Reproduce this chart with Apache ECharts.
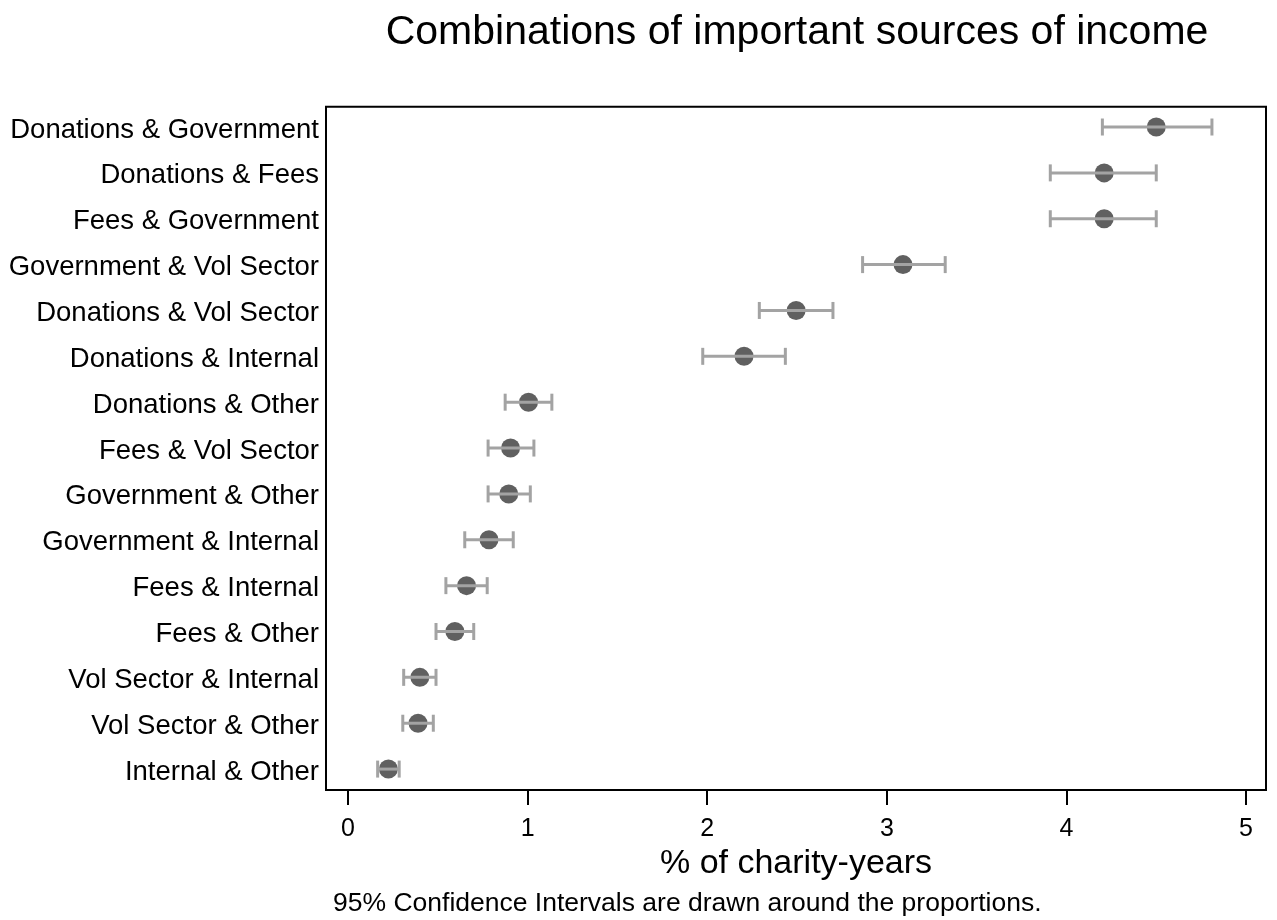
<!DOCTYPE html>
<html>
<head>
<meta charset="utf-8">
<title>Combinations of important sources of income</title>
<script src="https://cdn.jsdelivr.net/npm/echarts@6/dist/echarts.min.js"></script>
<style>
  html, body { margin: 0; padding: 0; background: #ffffff; }
  #chart { width: 1277px; height: 920px; }
</style>
</head>
<body>
<div id="chart"></div>
<script>
// Income-source pairs, top to bottom
const categories = [
  'Donations & Government',
  'Donations & Fees',
  'Fees & Government',
  'Government & Vol Sector',
  'Donations & Vol Sector',
  'Donations & Internal',
  'Donations & Other',
  'Fees & Vol Sector',
  'Government & Other',
  'Government & Internal',
  'Fees & Internal',
  'Fees & Other',
  'Vol Sector & Internal',
  'Vol Sector & Other',
  'Internal & Other'
];

// Share of charity-years (%) and the 95% confidence bounds
const proportion = [4.50, 4.21, 4.21, 3.09, 2.495, 2.205, 1.005, 0.905, 0.895, 0.785, 0.66, 0.595, 0.40, 0.39, 0.225];
const ciLow      = [4.20, 3.91, 3.91, 2.865, 2.29, 1.975, 0.875, 0.78, 0.78, 0.65, 0.545, 0.49, 0.31, 0.305, 0.165];
const ciHigh     = [4.81, 4.50, 4.50, 3.325, 2.70, 2.435, 1.135, 1.035, 1.015, 0.92, 0.775, 0.70, 0.49, 0.475, 0.285];

const xTicks = [0, 1, 2, 3, 4, 5];

const FONT = '"Liberation Sans", Arial, Helvetica, sans-serif';

const rowIndex = categories.map((_, i) => i + 1);
const pointData = proportion.map((v, i) => [v, rowIndex[i]]);
const ciData = ciLow.map((lo, i) => [lo, ciHigh[i], rowIndex[i]]);

const chart = echarts.init(document.getElementById('chart'), null, { renderer: 'canvas' });

chart.setOption({
  backgroundColor: '#ffffff',
  animation: false,
  grid: {
    left: 326,
    right: 11,
    top: 106.7,
    bottom: 130,
    show: true,
    borderColor: '#000000',
    borderWidth: 2,
    backgroundColor: '#ffffff'
  },
  xAxis: {
    type: 'value',
    min: -0.1225,
    max: 5.111,
    name: '% of charity-years',
    nameLocation: 'middle',
    nameGap: 51,
    nameTextStyle: { fontFamily: FONT, fontSize: 34, color: '#000000' },
    axisLine: { show: false },
    axisTick: {
      show: true,
      length: 15,
      customValues: xTicks,
      lineStyle: { color: '#000000', width: 2 }
    },
    axisLabel: {
      customValues: xTicks,
      margin: 27,
      fontFamily: FONT,
      fontSize: 25,
      color: '#000000'
    },
    splitLine: { show: false }
  },
  yAxis: {
    type: 'value',
    inverse: true,
    min: 0.557,
    max: 15.456,
    axisLine: { show: false },
    axisTick: { show: false },
    splitLine: { show: false },
    axisLabel: {
      customValues: rowIndex,
      margin: 7,
      fontFamily: FONT,
      fontSize: 27.5,
      color: '#000000',
      verticalAlign: 'top',
      lineHeight: 6,
      formatter: v => categories[Math.round(v) - 1] || ''
    }
  },
  series: [
    {
      type: 'scatter',
      data: pointData,
      symbol: 'circle',
      symbolSize: 19,
      itemStyle: { color: '#606060', opacity: 1 },
      z: 2
    },
    {
      type: 'custom',
      data: ciData,
      encode: { x: [0, 1], y: 2 },
      z: 3,
      renderItem: function (params, api) {
        const y = api.value(2);
        const a = api.coord([api.value(0), y]);
        const b = api.coord([api.value(1), y]);
        const half = 8.5;
        const style = { stroke: '#a3a3a3', lineWidth: 3, fill: null };
        return {
          type: 'group',
          children: [
            { type: 'line', shape: { x1: a[0], y1: a[1], x2: b[0], y2: b[1] }, style: style },
            { type: 'line', shape: { x1: a[0], y1: a[1] - half, x2: a[0], y2: a[1] + half }, style: style },
            { type: 'line', shape: { x1: b[0], y1: b[1] - half, x2: b[0], y2: b[1] + half }, style: style }
          ]
        };
      }
    }
  ],
  graphic: [
    {
      type: 'text',
      x: 797,
      y: 33,
      style: {
        text: 'Combinations of important sources of income',
        font: '41px ' + FONT,
        fill: '#000000',
        textAlign: 'center',
        textVerticalAlign: 'middle'
      }
    },
    {
      type: 'text',
      x: 333,
      y: 904,
      style: {
        text: '95% Confidence Intervals are drawn around the proportions.',
        font: '26.5px ' + FONT,
        fill: '#000000',
        textAlign: 'left',
        textVerticalAlign: 'middle'
      }
    }
  ]
});
</script>
</body>
</html>
